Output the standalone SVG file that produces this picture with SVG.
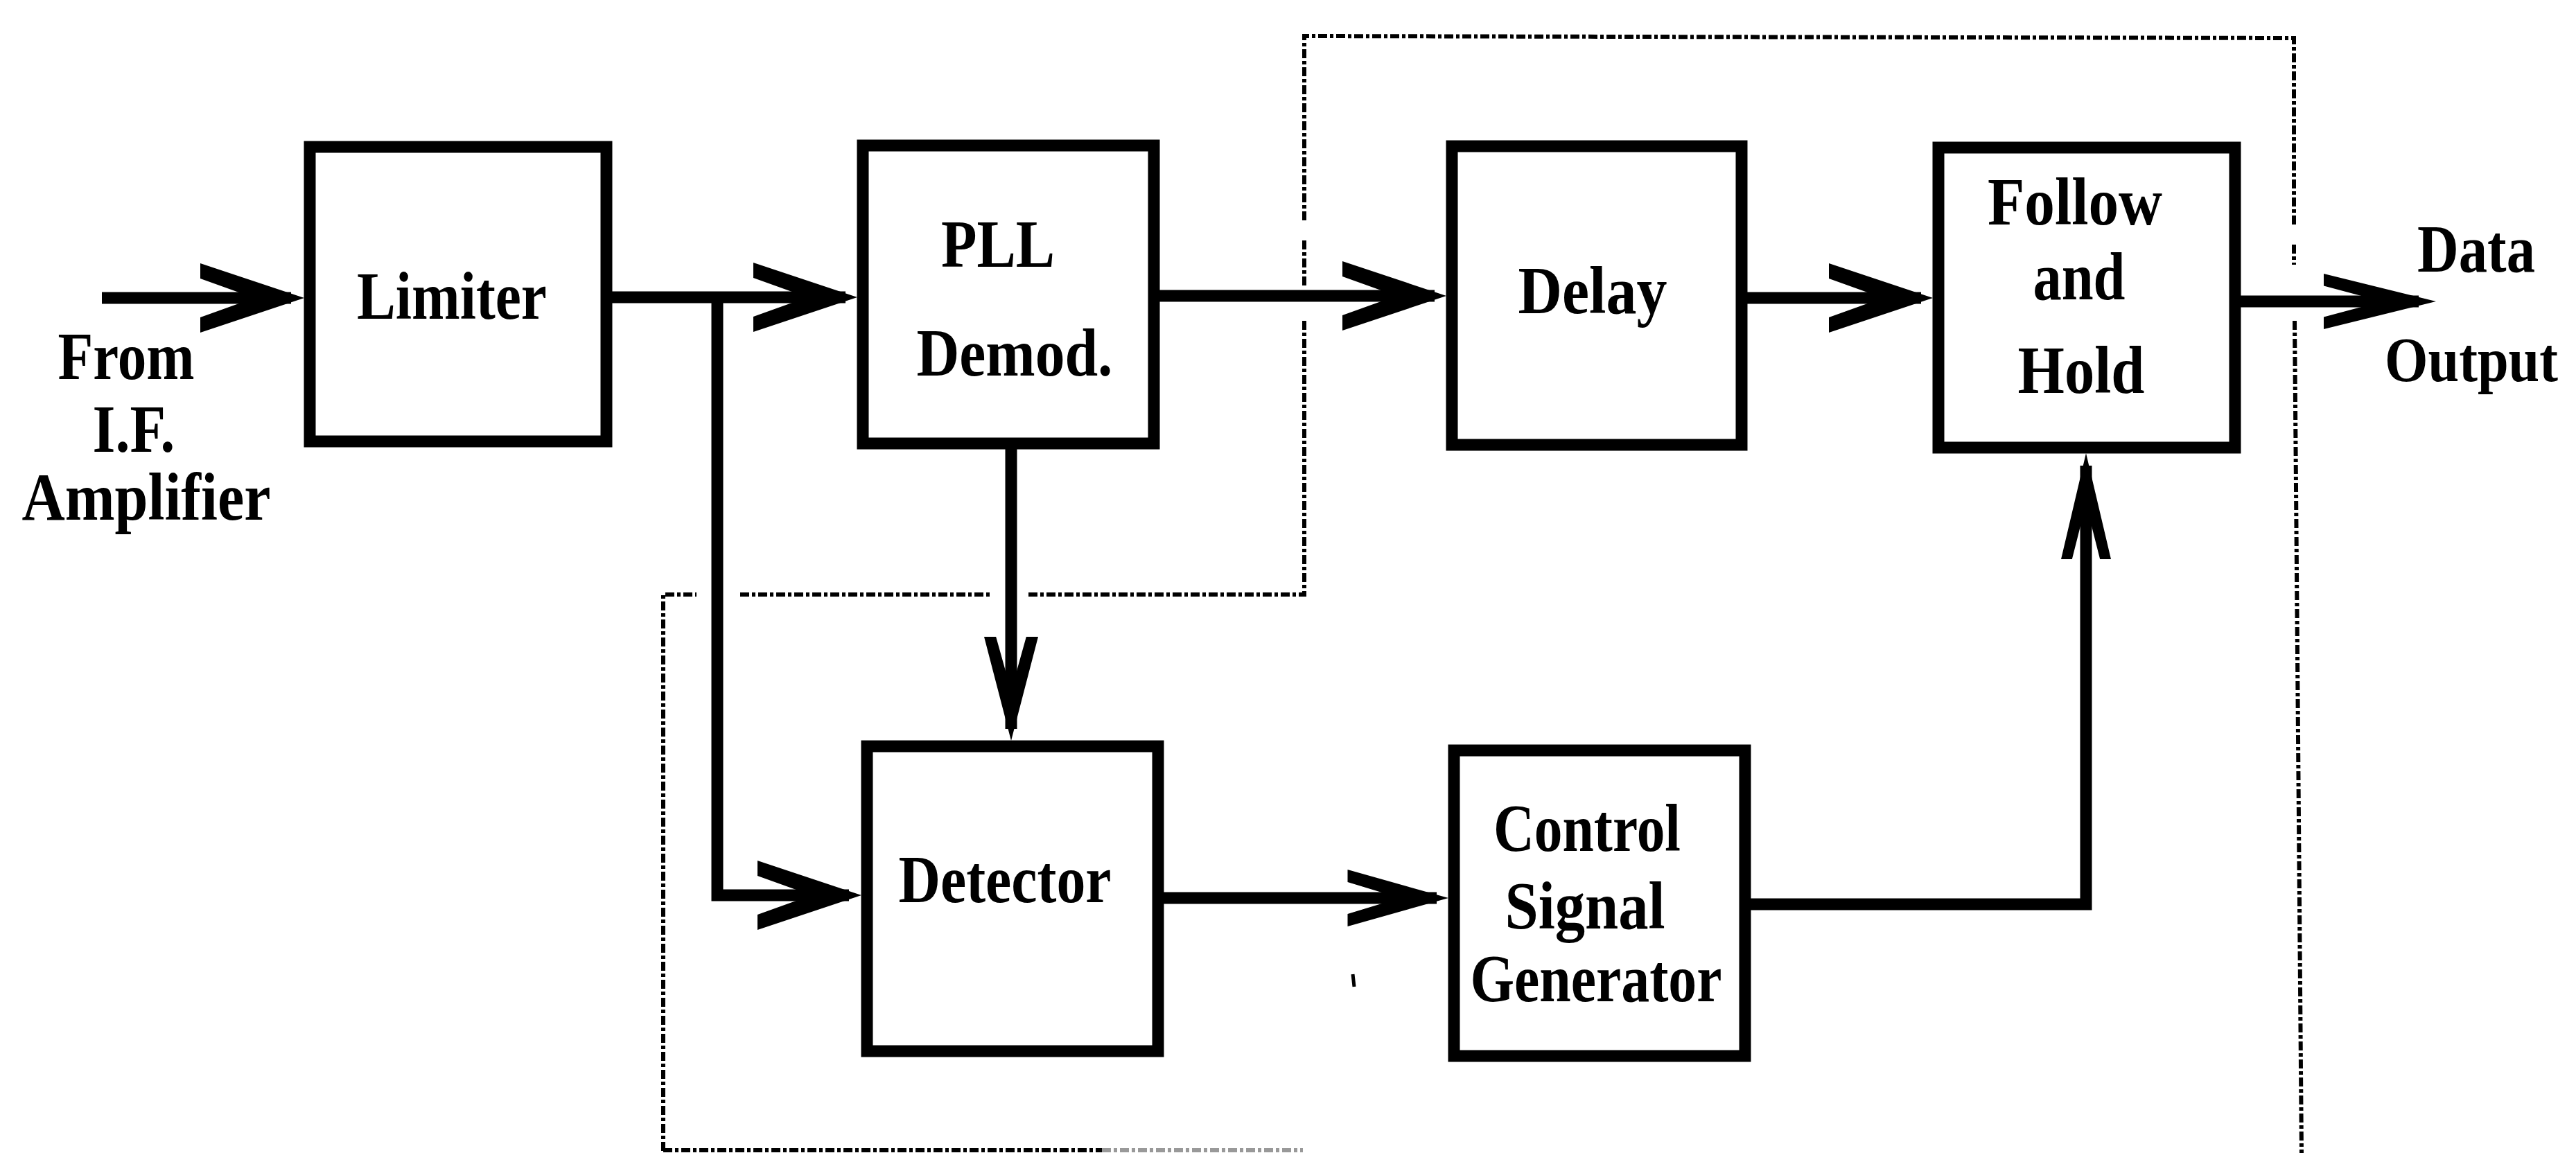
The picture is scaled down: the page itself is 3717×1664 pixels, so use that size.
<svg xmlns="http://www.w3.org/2000/svg" xmlns:xlink="http://www.w3.org/1999/xlink" width="3717" height="1664" viewBox="0 0 3717 1664">
<style>
.box{fill:#fff;stroke:#000;stroke-width:17}
.ln{fill:none;stroke:#000;stroke-width:17;stroke-linecap:butt;stroke-linejoin:miter}
.ah{fill:#000}
.dash{fill:none;stroke:#000;stroke-width:6;stroke-dasharray:13 4 5 4}
.t{font-family:"Liberation Serif","Times New Roman",serif;font-weight:bold;font-size:98px;fill:#000;text-anchor:middle}
</style>
<defs>
<path id="ah" d="M0,0 L-150,-50 L-150,-28 L-72,0 L-150,28 L-150,50 Z"/>
</defs>
<rect width="3717" height="1664" fill="#fff"/>

<g id="boundary">
<path class="dash" d="M957,1661 L957,858 L1005,858"/>
<path class="dash" d="M1068,858 L1428,858"/>
<path class="dash" d="M1484,858 L1882,858 L1882,462"/>
<path class="dash" d="M1882,412 L1882,346"/>
<path class="dash" d="M1882,318 L1882,52 L3310,55 L3310,327"/>
<path class="dash" d="M3310,353 L3310,382"/>
<path class="dash" d="M3311,463 L3321,1664"/>
<path class="dash" d="M957,1660 L1590,1660"/>
<path class="dash" d="M1590,1660 L1880,1660" style="stroke:#999"/>
</g>

<g id="connectors">
<path class="ln" d="M147,430 L420,430"/>
<use class="ah" xlink:href="#ah" transform="translate(439,430)"/>
<path class="ln" d="M883,429 L1220,429"/>
<use class="ah" xlink:href="#ah" transform="translate(1237,429)"/>
<path class="ln" d="M1035,429 L1035,1292 L1225,1292"/>
<use class="ah" xlink:href="#ah" transform="translate(1243,1292)"/>
<path class="ln" d="M1673,427 L2070,427"/>
<use class="ah" xlink:href="#ah" transform="translate(2087,427)"/>
<path class="ln" d="M2521,430 L2772,430"/>
<use class="ah" xlink:href="#ah" transform="translate(2789,430)"/>
<path class="ln" d="M3233,435 L3490,435"/>
<use class="ah" xlink:href="#ah" transform="translate(3515,435) scale(1.08,0.8)"/>
<path class="ln" d="M1459,648 L1459,1052"/>
<use class="ah" xlink:href="#ah" transform="translate(1459,1069) rotate(90) scale(1,0.78)"/>
<path class="ln" d="M1679,1296 L2073,1296"/>
<use class="ah" xlink:href="#ah" transform="translate(2090,1296) scale(0.97,0.82)"/>
<path class="ln" d="M2526,1305 L3010,1305 L3010,672"/>
<use class="ah" xlink:href="#ah" transform="translate(3010,654) rotate(-90) scale(1.02,0.72)"/>
</g>

<g id="limiter">
<rect class="box" x="447" y="212" width="428" height="425"/>
<text class="t" x="652" y="460" textLength="274" lengthAdjust="spacingAndGlyphs">Limiter</text>
</g>
<g id="pll-demod">
<rect class="box" x="1245" y="210" width="420" height="430"/>
<text class="t" x="1440" y="385" textLength="164" lengthAdjust="spacingAndGlyphs">PLL</text>
<text class="t" x="1464" y="542" textLength="283" lengthAdjust="spacingAndGlyphs">Demod.</text>
</g>
<g id="delay">
<rect class="box" x="2095" y="211" width="418" height="431"/>
<text class="t" x="2298" y="452" textLength="215" lengthAdjust="spacingAndGlyphs">Delay</text>
</g>
<g id="follow-and-hold">
<rect class="box" x="2797" y="213" width="428" height="433"/>
<text class="t" x="2994" y="324" textLength="252" lengthAdjust="spacingAndGlyphs">Follow</text>
<text class="t" x="3000" y="432" textLength="133" lengthAdjust="spacingAndGlyphs">and</text>
<text class="t" x="3003" y="567" textLength="183" lengthAdjust="spacingAndGlyphs">Hold</text>
</g>
<g id="detector">
<rect class="box" x="1251" y="1077" width="420" height="440"/>
<text class="t" x="1450" y="1302" textLength="307" lengthAdjust="spacingAndGlyphs">Detector</text>
</g>
<g id="control-signal-generator">
<rect class="box" x="2098" y="1083" width="420" height="441"/>
<text class="t" x="2290" y="1228" textLength="270" lengthAdjust="spacingAndGlyphs">Control</text>
<text class="t" x="2287" y="1340" textLength="231" lengthAdjust="spacingAndGlyphs">Signal</text>
<text class="t" x="2303" y="1445" textLength="363" lengthAdjust="spacingAndGlyphs">Generator</text>
</g>
<g id="input-label">
<text class="t" x="182" y="547" textLength="197" lengthAdjust="spacingAndGlyphs">From</text>
<text class="t" x="193" y="652" textLength="119" lengthAdjust="spacingAndGlyphs">I.F.</text>
<text class="t" x="211" y="750" textLength="359" lengthAdjust="spacingAndGlyphs">Amplifier</text>
</g>
<g id="output-label">
<text class="t" x="3573" y="392" textLength="170" lengthAdjust="spacingAndGlyphs">Data</text>
<text class="t" x="3566" y="550" style="font-size:90px" textLength="250" lengthAdjust="spacingAndGlyphs">Output</text>
</g>
<path d="M1952,1406 L1954,1424" stroke="#000" stroke-width="5"/>
</svg>
